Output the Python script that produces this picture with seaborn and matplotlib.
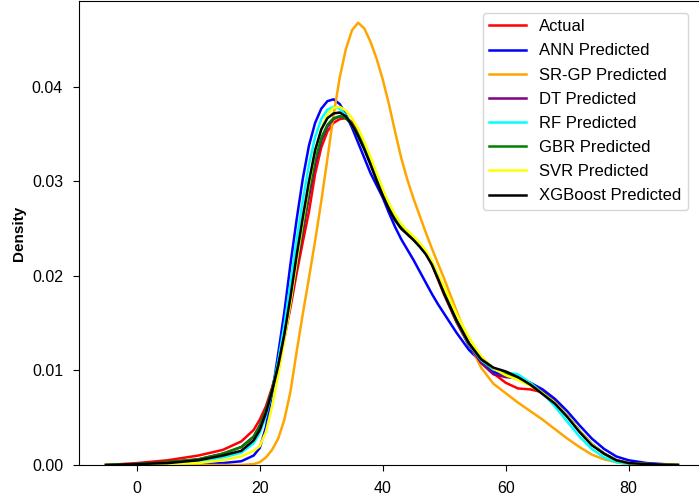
import pandas as pd
import matplotlib
matplotlib.use("Agg")
import matplotlib.pyplot as plt
import seaborn as sns

# === Curvas de densidad ===
x_grid = [-5, 0, 5, 10, 14, 17, 19,
          20, 21, 22, 23, 24, 25, 26, 27, 28, 29, 30, 31, 32, 33, 34, 35, 36, 37,
          38, 39, 40, 41, 42, 43, 44, 45, 46, 47, 48, 49, 50,
          52, 54, 56, 58, 60, 62, 64, 66, 68, 70, 72, 74, 76, 78, 80,
          83, 88]

actual = [0.0, 0.0002, 0.0005, 0.0010, 0.0016, 0.0025, 0.0037,
          0.0048, 0.0062, 0.0082, 0.0106, 0.0134, 0.0167, 0.0203, 0.0236, 0.0268, 0.0308, 0.0336, 0.0353, 0.0362, 0.0366, 0.0367, 0.0363, 0.0353, 0.0339,
          0.0322, 0.0305, 0.0289, 0.0274, 0.0262, 0.0253, 0.0246, 0.0240, 0.0232, 0.0224, 0.0212, 0.0196, 0.0180,
          0.0151, 0.0127, 0.0110, 0.0097, 0.0087, 0.0081, 0.0080, 0.0077, 0.0067, 0.0052, 0.0036, 0.0022, 0.0012, 0.0005, 0.0002,
          0.0001, 0.0]
ann = [0.0, 0.0, 0.0, 0.0001, 0.0002, 0.0004, 0.0010,
       0.0018, 0.0040, 0.0075, 0.0118, 0.0162, 0.0213, 0.0260, 0.0303, 0.0338, 0.0362, 0.0377, 0.0385, 0.0387, 0.0382, 0.0371, 0.0357, 0.0341, 0.0325,
       0.0309, 0.0296, 0.0283, 0.0267, 0.0252, 0.0239, 0.0228, 0.0217, 0.0205, 0.0193, 0.0181, 0.0170, 0.0160,
       0.0140, 0.0122, 0.0109, 0.0099, 0.0094, 0.0091, 0.0087, 0.0080, 0.0070, 0.0057, 0.0042, 0.0028, 0.0017, 0.0009, 0.0005,
       0.0002, 0.0]
srgp = [0.0, 0.0, 0.0, 0.0, 0.0, 0.0, 0.0001,
        0.0003, 0.0008, 0.0016, 0.0028, 0.0048, 0.0078, 0.0120, 0.0160, 0.0198, 0.0237, 0.0279, 0.0324, 0.0370, 0.0410, 0.0440, 0.0460, 0.0468, 0.0462,
        0.0448, 0.0430, 0.0408, 0.0382, 0.0353, 0.0325, 0.0302, 0.0282, 0.0264, 0.0246, 0.0229, 0.0213, 0.0197,
        0.0163, 0.0130, 0.0103, 0.0086, 0.0076, 0.0066, 0.0057, 0.0048, 0.0038, 0.0028, 0.0019, 0.0011, 0.0006, 0.0003, 0.0001,
        0.0, 0.0]
dt = [0.0, 0.0001, 0.0003, 0.0006, 0.0012, 0.0019, 0.0030,
      0.0042, 0.0058, 0.0080, 0.0106, 0.0136, 0.0171, 0.0210, 0.0247, 0.0284, 0.0318, 0.0343, 0.0358, 0.0366, 0.0369, 0.0367, 0.0361, 0.0351, 0.0338,
      0.0322, 0.0305, 0.0289, 0.0274, 0.0262, 0.0253, 0.0246, 0.0240, 0.0233, 0.0225, 0.0213, 0.0198, 0.0182,
      0.0152, 0.0127, 0.0108, 0.0096, 0.0093, 0.0092, 0.0087, 0.0077, 0.0066, 0.0052, 0.0036, 0.0022, 0.0012, 0.0005, 0.0002,
      0.0001, 0.0]
rf = [0.0, 0.0001, 0.0002, 0.0004, 0.0008, 0.0013, 0.0023,
      0.0034, 0.0052, 0.0078, 0.0110, 0.0148, 0.0192, 0.0238, 0.0280, 0.0318, 0.0347, 0.0366, 0.0376, 0.0379, 0.0377, 0.0370, 0.0360, 0.0348, 0.0334,
      0.0319, 0.0302, 0.0287, 0.0273, 0.0261, 0.0252, 0.0245, 0.0239, 0.0232, 0.0224, 0.0213, 0.0198, 0.0183,
      0.0153, 0.0128, 0.0111, 0.0101, 0.0098, 0.0096, 0.0087, 0.0076, 0.0062, 0.0046, 0.0030, 0.0017, 0.0008, 0.0003, 0.0001,
      0.0, 0.0]
gbr = [0.0, 0.0001, 0.0003, 0.0006, 0.0012, 0.0019, 0.0030,
       0.0041, 0.0058, 0.0080, 0.0106, 0.0137, 0.0174, 0.0214, 0.0252, 0.0290, 0.0323, 0.0346, 0.0360, 0.0367, 0.0369, 0.0367, 0.0360, 0.0350, 0.0337,
       0.0322, 0.0305, 0.0289, 0.0274, 0.0262, 0.0253, 0.0246, 0.0240, 0.0233, 0.0225, 0.0213, 0.0198, 0.0182,
       0.0153, 0.0129, 0.0112, 0.0102, 0.0097, 0.0092, 0.0085, 0.0076, 0.0066, 0.0052, 0.0036, 0.0022, 0.0012, 0.0005, 0.0002,
       0.0001, 0.0]
svr = [0.0, 0.0, 0.0001, 0.0002, 0.0005, 0.0009, 0.0015,
       0.0020, 0.0035, 0.0062, 0.0095, 0.0132, 0.0172, 0.0216, 0.0258, 0.0297, 0.0332, 0.0356, 0.0371, 0.0378, 0.0379, 0.0375, 0.0367, 0.0356, 0.0342,
       0.0326, 0.0309, 0.0292, 0.0277, 0.0265, 0.0255, 0.0248, 0.0242, 0.0235, 0.0227, 0.0216, 0.0202, 0.0188,
       0.0160, 0.0135, 0.0115, 0.0102, 0.0095, 0.0090, 0.0084, 0.0076, 0.0066, 0.0052, 0.0036, 0.0022, 0.0012, 0.0005, 0.0002,
       0.0001, 0.0]
xgb = [0.0, 0.0001, 0.0002, 0.0005, 0.0010, 0.0015, 0.0026,
       0.0037, 0.0055, 0.0078, 0.0105, 0.0138, 0.0178, 0.0222, 0.0262, 0.0300, 0.0333, 0.0355, 0.0367, 0.0372, 0.0373, 0.0369, 0.0360, 0.0348, 0.0334,
       0.0318, 0.0301, 0.0285, 0.0271, 0.0259, 0.0250, 0.0244, 0.0238, 0.0231, 0.0223, 0.0212, 0.0197, 0.0181,
       0.0153, 0.0129, 0.0112, 0.0103, 0.0099, 0.0093, 0.0085, 0.0075, 0.0065, 0.0051, 0.0035, 0.0021, 0.0012, 0.0005, 0.0002,
       0.0001, 0.0]

series = {
    "Actual": actual,
    "ANN Predicted": ann,
    "SR-GP Predicted": srgp,
    "DT Predicted": dt,
    "RF Predicted": rf,
    "GBR Predicted": gbr,
    "SVR Predicted": svr,
    "XGBoost Predicted": xgb,
}
colores = ["red", "blue", "orange", "purple", "cyan", "green", "yellow", "black"]

df = pd.concat(
    [pd.DataFrame({"x": x_grid, "Density": v, "modelo": k}) for k, v in series.items()],
    ignore_index=True,
)

plt.rcParams["font.family"] = ["Liberation Sans", "DejaVu Sans"]

fig = plt.figure(figsize=(6.99, 4.98), dpi=100)
ax = fig.add_axes([79 / 699, 33 / 498, 621 / 699, 464 / 498])
sns.lineplot(data=df, x="x", y="Density", hue="modelo", palette=colores,
             linewidth=1.8, ax=ax)

ax.set_xlim(-9.4, 91.6)
ax.set_ylim(0, 0.0491)
ax.set_xticks([0, 20, 40, 60, 80])
ax.set_yticks([0.0, 0.01, 0.02, 0.03, 0.04])
ax.set_yticklabels(["0.00", "0.01", "0.02", "0.03", "0.04"])
ax.tick_params(labelsize=11.5, pad=7, length=4.5)
ax.set_xlabel("")
ax.set_ylabel("Density", fontsize=11, fontweight="bold")

sns.move_legend(ax, "upper right", title=None, fontsize=12,
                handlelength=2.2, labelspacing=0.55, borderaxespad=0.7)

fig.savefig("out.png", dpi=100)
